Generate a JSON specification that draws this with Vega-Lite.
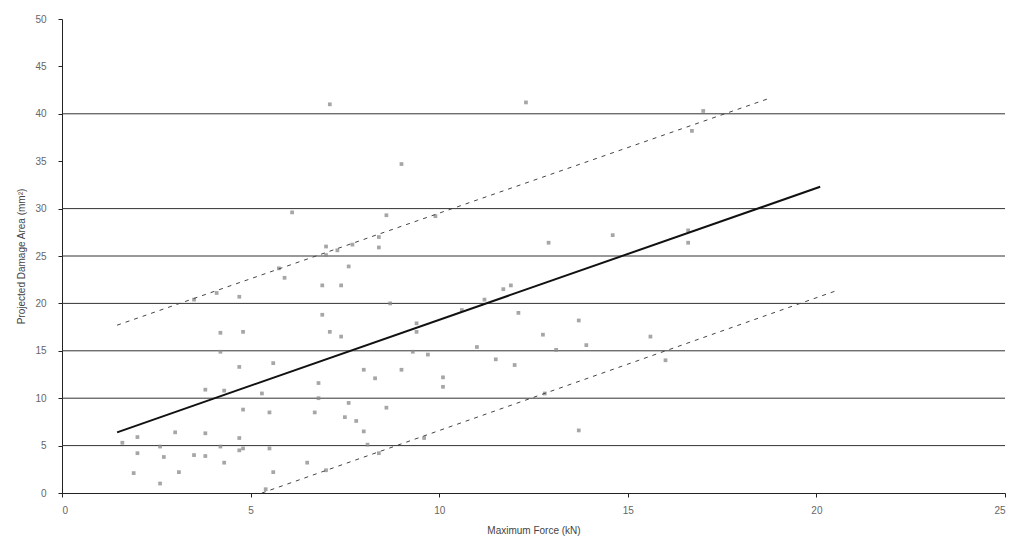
{
  "$schema": "https://vega.github.io/schema/vega-lite/v6.json",
  "width": 943,
  "height": 474,
  "autosize": {"type": "none"},
  "padding": {"left": 62, "top": 19, "right": 9, "bottom": 58},
  "background": "white",
  "config": {
    "view": {"stroke": null},
    "axis": {
      "labelFont": "Liberation Sans",
      "titleFont": "Liberation Sans",
      "labelFontSize": 10,
      "titleFontSize": 10,
      "titleFontWeight": "normal",
      "labelColor": "#666",
      "titleColor": "#444",
      "domainColor": "#222",
      "tickColor": "#222",
      "tickSize": 4
    }
  },
  "datasets": {
    "grid": [
      {"y": 5}, {"y": 10}, {"y": 15}, {"y": 20}, {"y": 25}, {"y": 30}, {"y": 40}
    ],
    "points": [
      {"x": 1.6, "y": 5.3}, {"x": 2.0, "y": 5.9}, {"x": 2.0, "y": 4.2}, {"x": 1.9, "y": 2.1},
      {"x": 2.6, "y": 1.0}, {"x": 2.7, "y": 3.8}, {"x": 3.0, "y": 6.4}, {"x": 3.1, "y": 2.2},
      {"x": 3.5, "y": 4.0}, {"x": 3.8, "y": 3.9}, {"x": 3.8, "y": 6.3}, {"x": 4.2, "y": 4.9},
      {"x": 4.3, "y": 3.2}, {"x": 4.7, "y": 5.8}, {"x": 4.8, "y": 4.7}, {"x": 4.7, "y": 4.5},
      {"x": 5.5, "y": 4.7}, {"x": 5.6, "y": 2.2}, {"x": 5.4, "y": 0.4}, {"x": 2.6, "y": 4.9},
      {"x": 3.8, "y": 10.9}, {"x": 4.3, "y": 10.8}, {"x": 4.7, "y": 13.3}, {"x": 5.6, "y": 13.7},
      {"x": 4.8, "y": 8.8}, {"x": 5.5, "y": 8.5}, {"x": 5.3, "y": 10.5}, {"x": 4.2, "y": 14.9},
      {"x": 4.2, "y": 16.9}, {"x": 4.8, "y": 17.0}, {"x": 7.1, "y": 17.0}, {"x": 7.4, "y": 16.5},
      {"x": 8.0, "y": 13.0}, {"x": 8.3, "y": 12.1}, {"x": 9.0, "y": 13.0}, {"x": 10.1, "y": 12.2},
      {"x": 10.1, "y": 11.2}, {"x": 6.8, "y": 11.6}, {"x": 6.8, "y": 10.0}, {"x": 7.6, "y": 9.5},
      {"x": 6.7, "y": 8.5}, {"x": 8.6, "y": 9.0}, {"x": 7.5, "y": 8.0}, {"x": 7.8, "y": 7.6},
      {"x": 8.0, "y": 6.5}, {"x": 8.1, "y": 5.1}, {"x": 8.4, "y": 4.2}, {"x": 6.5, "y": 3.2},
      {"x": 7.0, "y": 2.4}, {"x": 9.3, "y": 14.9}, {"x": 9.7, "y": 14.6}, {"x": 11.0, "y": 15.4},
      {"x": 9.4, "y": 17.0}, {"x": 9.6, "y": 5.8}, {"x": 6.1, "y": 29.6}, {"x": 3.5, "y": 20.4},
      {"x": 4.1, "y": 21.1}, {"x": 4.7, "y": 20.7}, {"x": 5.9, "y": 22.7}, {"x": 5.75, "y": 23.7},
      {"x": 6.9, "y": 21.9}, {"x": 6.9, "y": 18.8}, {"x": 9.0, "y": 34.7}, {"x": 8.6, "y": 29.3},
      {"x": 9.9, "y": 29.2}, {"x": 8.4, "y": 27.0}, {"x": 8.4, "y": 25.9}, {"x": 7.7, "y": 26.2},
      {"x": 7.3, "y": 25.6}, {"x": 7.0, "y": 26.0}, {"x": 7.0, "y": 25.1}, {"x": 7.6, "y": 23.9},
      {"x": 7.4, "y": 21.9}, {"x": 8.7, "y": 20.0}, {"x": 9.4, "y": 17.9}, {"x": 10.6, "y": 19.3},
      {"x": 11.2, "y": 20.4}, {"x": 11.7, "y": 21.5}, {"x": 11.9, "y": 21.9}, {"x": 12.1, "y": 19.0},
      {"x": 12.9, "y": 26.4}, {"x": 12.75, "y": 16.7}, {"x": 14.6, "y": 27.2}, {"x": 16.6, "y": 27.7},
      {"x": 16.6, "y": 26.4}, {"x": 13.7, "y": 18.2}, {"x": 13.9, "y": 15.6}, {"x": 15.6, "y": 16.5},
      {"x": 13.1, "y": 15.1}, {"x": 11.5, "y": 14.1}, {"x": 12.0, "y": 13.5}, {"x": 16.0, "y": 14.0},
      {"x": 12.8, "y": 10.5}, {"x": 13.7, "y": 6.6}, {"x": 12.3, "y": 41.2}, {"x": 17.0, "y": 40.3},
      {"x": 16.7, "y": 38.2}, {"x": 7.1, "y": 41.0}
    ],
    "lines": [
      {"series": "fit", "x": 1.46, "y": 6.4},
      {"series": "fit", "x": 20.1, "y": 32.3},
      {"series": "upper", "x": 1.46, "y": 17.7},
      {"series": "upper", "x": 18.8, "y": 41.7},
      {"series": "lower", "x": 5.3, "y": 0.0},
      {"series": "lower", "x": 20.5, "y": 21.3}
    ]
  },
  "layer": [
    {
      "data": {"name": "grid"},
      "mark": {"type": "rule", "color": "#333", "strokeWidth": 1},
      "encoding": {
        "y": {"field": "y", "type": "quantitative", "scale": {"domain": [0, 50], "nice": false}}
      }
    },
    {
      "data": {"name": "points"},
      "mark": {"type": "point", "shape": "square", "filled": true, "size": 14, "color": "#888", "opacity": 0.75},
      "encoding": {
        "x": {
          "field": "x", "type": "quantitative",
          "scale": {"domain": [0, 25], "nice": false},
          "axis": {"values": [0, 5, 10, 15, 20, 25], "grid": false, "title": "Maximum Force (kN)", "labelPadding": 8, "titlePadding": 10}
        },
        "y": {
          "field": "y", "type": "quantitative",
          "scale": {"domain": [0, 50], "nice": false},
          "axis": {"values": [0, 5, 10, 15, 20, 25, 30, 35, 40, 45, 50], "grid": false, "title": "Projected Damage Area (mm²)", "labelPadding": 12, "titlePadding": 8}
        }
      }
    },
    {
      "data": {"name": "lines"},
      "transform": [{"filter": "datum.series === 'fit'"}],
      "mark": {"type": "line", "color": "#111", "strokeWidth": 2},
      "encoding": {
        "x": {"field": "x", "type": "quantitative"},
        "y": {"field": "y", "type": "quantitative"}
      }
    },
    {
      "data": {"name": "lines"},
      "transform": [{"filter": "datum.series !== 'fit'"}],
      "mark": {"type": "line", "color": "#444", "strokeWidth": 1, "strokeDash": [4, 5]},
      "encoding": {
        "x": {"field": "x", "type": "quantitative"},
        "y": {"field": "y", "type": "quantitative"},
        "detail": {"field": "series"}
      }
    }
  ]
}
